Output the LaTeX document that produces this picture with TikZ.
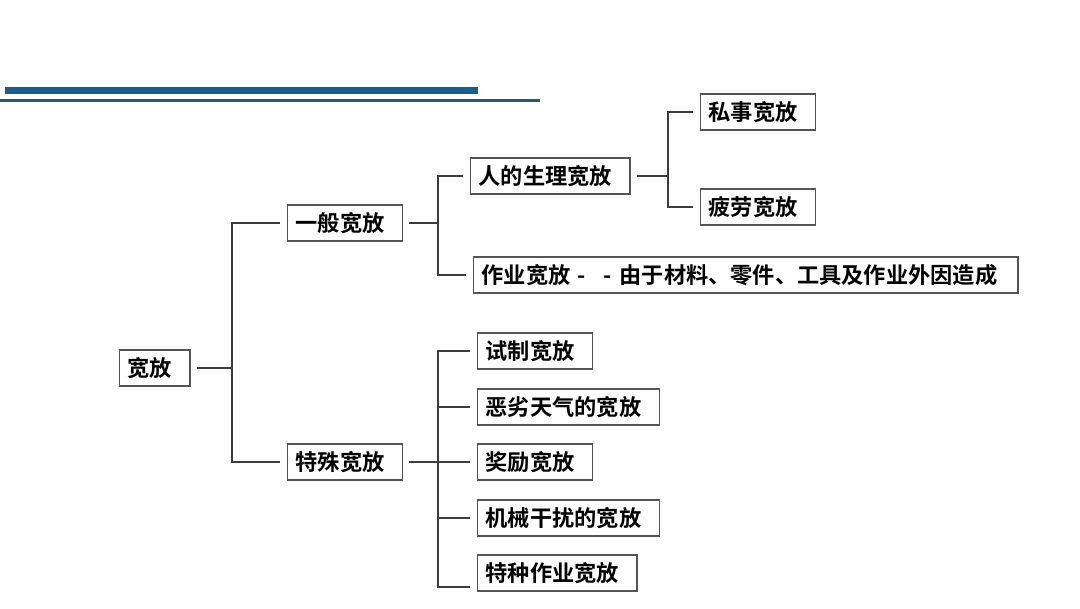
\documentclass[tikz,border=0pt]{standalone}
\usepackage{fontspec}
\newfontfamily\cjk{Noto Sans CJK SC}[BoldFont={Noto Sans CJK SC Bold}]
\definecolor{barblue}{RGB}{24,94,138}
\definecolor{barline}{RGB}{44,88,104}
\definecolor{boxgray}{RGB}{85,85,85}
\definecolor{linkgray}{RGB}{60,60,60}
\begin{document}
\begin{tikzpicture}[x=0.025cm,y=-0.025cm,
  box/.style={draw=boxgray,line width=1pt,anchor=west,inner xsep=0.2cm,
    minimum height=0.9cm,execute at end node={\hspace{0.25cm}},
    font=\cjk\bfseries\fontsize{15.8}{18}\selectfont},
  link/.style={draw=linkgray,line width=0.85pt},
  from/.style={shorten <=0.15cm},
  to/.style={shorten >=0.18cm}]
  \useasboundingbox (0,0) rectangle (1080,608);
  % title bars
  \fill[barblue] (5,87) rectangle (478,94);
  \fill[barline] (0,99) rectangle (540,101.5);
  % nodes
  \node[box] (root) at (119,368) {宽放};
  \node[box] (gen) at (287,223) {一般宽放};
  \node[box] (spec) at (287,462) {特殊宽放};
  \node[box] (phys) at (470,176) {人的生理宽放};
  \node[box] (pers) at (700,112) {私事宽放};
  \node[box] (fat) at (700,207) {疲劳宽放};
  \node[box,text width=13.2cm,align=left] (work) at (473,275) {作业宽放 -\hspace{0.8em}- 由于材料、零件、工具及作业外因造成};
  \node[box] (s1) at (477,351) {试制宽放};
  \node[box] (s2) at (477,407) {恶劣天气的宽放};
  \node[box] (s3) at (477,462) {奖励宽放};
  \node[box] (s4) at (477,518) {机械干扰的宽放};
  \node[box] (s5) at (477,573) {特种作业宽放};
  % junctions
  \coordinate (j0) at (232,368);
  \coordinate (j1) at (438,223);
  \coordinate (j2) at (668,176);
  \coordinate (j3) at (438,462);
  % connectors
  \draw[link,from] (root.east) -- (j0);
  \draw[link,to] (j0) |- (gen.west);
  \draw[link,to] (j0) |- (spec.west);
  \draw[link,from] (gen.east) -- (j1);
  \draw[link,to] (j1) |- (phys.west);
  \draw[link,to] (j1) |- (work.west);
  \draw[link,from] (phys.east) -- (j2);
  \draw[link,to] (j2) |- (pers.west);
  \draw[link,to] (j2) |- (fat.west);
  \draw[link,from] (spec.east) -- (j3);
  \foreach \s in {s1,s2,s3,s4}
    \draw[link,to] (j3) |- (\s.west);
  \draw[link,to] (j3) |- ([yshift=-0.35cm]s5.west);
\end{tikzpicture}
\end{document}
